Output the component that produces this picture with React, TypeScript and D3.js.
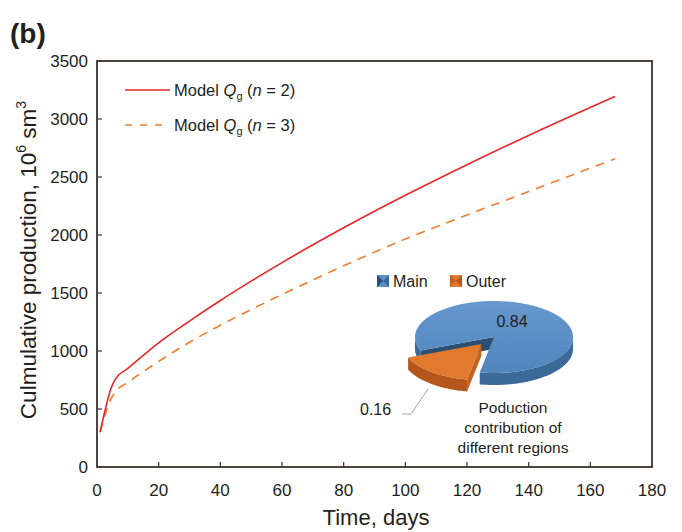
import React from 'react';
import * as d3 from 'd3';

// Cumulative production curves (10^6 sm^3) vs time (days)
const timeDays = [1, 3, 4.5, 6, 10, 15, 20, 30, 40, 50, 60, 80, 100, 120, 140, 168];
const modelN2 = [300, 530, 675, 760, 850, 962, 1070, 1258, 1435, 1602, 1762, 2062, 2342, 2606, 2858, 3194];
const modelN3 = [300, 480, 585, 650, 730, 822, 910, 1075, 1222, 1358, 1487, 1735, 1965, 2172, 2375, 2657];

const xTicks = [0, 20, 40, 60, 80, 100, 120, 140, 160, 180];
const yTicks = [0, 500, 1000, 1500, 2000, 2500, 3000, 3500];

// Pie inset: production contribution of different regions
const regions = ['Main', 'Outer'];
const shares = [0.84, 0.16];

const FONT = '"Liberation Sans", Arial, sans-serif';
const RED = '#e4282a';
const ORANGE = '#ee7e32';

const margin = { top: 61, right: 30, bottom: 65, left: 97 };
const W = 682;
const H = 532;

export default function App() {
  const x = d3.scaleLinear().domain([0, 180]).range([margin.left, W - margin.right]);
  const y = d3.scaleLinear().domain([0, 3500]).range([H - margin.bottom, margin.top]);

  const line = d3
    .line<number>()
    .x((_, i) => x(timeDays[i]))
    .y((d) => y(d))
    .curve(d3.curveMonotoneX);

  // --- pie geometry ---
  const cx = 494;
  const cy = 337;
  const rx = 79;
  const k = 36 / 79;
  const depth = 12;
  const pieData = d3
    .pie<number>()
    .sort(null)
    .startAngle((248 * Math.PI) / 180)
    .endAngle((248 * Math.PI) / 180 + 2 * Math.PI)(shares);

  const pt = (a: number, r: number, ox: number, oy: number, z = 0): [number, number] => [
    cx + ox + r * Math.sin(a),
    cy + oy - r * Math.cos(a) * k + z,
  ];
  const pieColors = [
    { top: '#5a8fc8', side: '#3c6a98', wall: '#2b4e72' },
    { top: '#e27a2e', side: '#b5571b', wall: '#c4631f' },
  ];

  const slices = pieData.map((s, i) => {
    const mid = (s.startAngle + s.endAngle) / 2;
    const explode = i === 1 ? 20 : 0;
    const ox = explode * Math.sin(mid);
    const oy = -explode * Math.cos(mid) * k;
    const angles = d3.range(s.startAngle, s.endAngle, 0.02).concat([s.endAngle]);
    const arcTop = angles.map((a) => pt(a, rx, ox, oy));
    const c = pt(0, 0, ox, oy);
    const topPath = d3.line()([c, ...arcTop]) + 'Z';
    // visible outer side wall runs (front half)
    const runs: number[][] = [];
    let cur: number[] = [];
    angles.forEach((a) => {
      if (Math.cos(a) < 0.01) cur.push(a);
      else if (cur.length) {
        runs.push(cur);
        cur = [];
      }
    });
    if (cur.length) runs.push(cur);
    const sides = runs
      .filter((r) => r.length > 1)
      .map((r) => {
        const topPts = r.map((a) => pt(a, rx, ox, oy));
        const botPts = r.map((a) => pt(a, rx, ox, oy, depth)).reverse();
        return d3.line()([...topPts, ...botPts]) + 'Z';
      });
    // start radial wall, visible if it faces the viewer
    const walls: string[] = [];
    if (Math.sin(s.startAngle) < 0) {
      const e = pt(s.startAngle, rx, ox, oy);
      const eb = pt(s.startAngle, rx, ox, oy, depth);
      const cb = pt(0, 0, ox, oy, depth);
      walls.push(d3.line()([c, e, eb, cb]) + 'Z');
    }
    return { topPath, sides, walls, colors: pieColors[i] };
  });

  const axisColor = '#3b302c';
  const textColor = '#231f20';

  return (
    <svg width={W} height={H} style={{ position: 'absolute', left: 0, top: 0, background: '#fff' }} fontFamily={FONT}>
      <defs>
        <linearGradient id="mainTop" x1="0" y1="0" x2="0" y2="1">
          <stop offset="0" stopColor="#6498cf" />
          <stop offset="1" stopColor="#5185bd" />
        </linearGradient>
      </defs>
      <text x={10} y={43} fontSize={28} fontWeight="bold" fill={textColor}>
        (b)
      </text>

      {/* frame */}
      <rect
        x={x(0)}
        y={y(3500)}
        width={x(180) - x(0)}
        height={y(0) - y(3500)}
        fill="none"
        stroke={axisColor}
        strokeWidth={1.8}
      />
      {xTicks.slice(1, -1).map((t) => (
        <line key={t} x1={x(t)} x2={x(t)} y1={y(0)} y2={y(0) - 5} stroke={axisColor} strokeWidth={1.2} />
      ))}
      {yTicks.slice(1, -1).map((t) => (
        <line key={t} x1={x(0)} x2={x(0) + 5} y1={y(t)} y2={y(t)} stroke={axisColor} strokeWidth={1.2} />
      ))}
      {xTicks.map((t) => (
        <text key={t} x={x(t)} y={y(0) + 29} fontSize={17} textAnchor="middle" fill={textColor}>
          {t}
        </text>
      ))}
      {yTicks.map((t) => (
        <text key={t} x={x(0) - 9} y={y(t) + 6} fontSize={17} textAnchor="end" fill={textColor}>
          {t}
        </text>
      ))}
      <text x={376} y={525} fontSize={22} textAnchor="middle" fill={textColor}>
        Time, days
      </text>
      <text transform={`translate(36,260) rotate(-90)`} fontSize={22.5} textAnchor="middle" fill={textColor}>
        Culmulative production, 10
        <tspan fontSize={14} dy={-10}>6</tspan>
        <tspan dy={10}> sm</tspan>
        <tspan fontSize={14} dy={-10}>3</tspan>
      </text>

      {/* curves */}
      <path d={line(modelN3) || ''} fill="none" stroke={ORANGE} strokeWidth={1.6} strokeDasharray="9,7" />
      <path d={line(modelN2) || ''} fill="none" stroke={RED} strokeWidth={1.6} />

      {/* legend */}
      {[
        { label: '2', color: RED, dash: undefined, ly: 90 },
        { label: '3', color: ORANGE, dash: '7,8', ly: 125 },
      ].map((l) => (
        <g key={l.label}>
          <line x1={125} x2={170} y1={l.ly} y2={l.ly} stroke={l.color} strokeWidth={1.6} strokeDasharray={l.dash} />
          <text x={174} y={l.ly + 6} fontSize={16.5} fill={textColor}>
            Model <tspan fontStyle="italic">Q</tspan>
            <tspan fontSize={11} dy={4}>g</tspan>
            <tspan dy={-4}> (</tspan>
            <tspan fontStyle="italic">n</tspan> = {l.label})
          </text>
        </g>
      ))}

      {/* pie inset */}
      {slices.map((s, i) => (
        <g key={i}>
          {s.walls.map((d, j) => (
            <path key={'w' + j} d={d} fill={s.colors.wall} />
          ))}
          {s.sides.map((d, j) => (
            <path key={'s' + j} d={d} fill={s.colors.side} />
          ))}
          <path d={s.topPath} fill={i === 0 ? 'url(#mainTop)' : s.colors.top} />
        </g>
      ))}
      <text x={512} y={327} fontSize={16} textAnchor="middle" fill={textColor}>
        {shares[0].toFixed(2)}
      </text>
      <polyline points="402,414 411,414 428,389" fill="none" stroke="#a6a6a6" strokeWidth={1} />
      <text x={360} y={415} fontSize={16} fill={textColor}>
        {shares[1].toFixed(2)}
      </text>
      {regions.map((r, i) => (
        <g key={r} transform={`translate(${i === 0 ? 377 : 450},275)`}>
          <rect width={12} height={12} fill={pieColors[i].top} />
          <path d="M0,0 L6,6 L0,12 Z" fill={pieColors[i].wall} />
          <path d="M12,0 L6,6 L12,12 Z" fill={pieColors[i].side} />
          <text x={16} y={12} fontSize={16} fill={textColor}>
            {r}
          </text>
        </g>
      ))}
      <text x={513} y={413} fontSize={15.5} textAnchor="middle" fill={textColor}>
        <tspan x={513}>Poduction</tspan>
        <tspan x={513} dy={20}>contribution of</tspan>
        <tspan x={513} dy={20}>different regions</tspan>
      </text>
    </svg>
  );
}
